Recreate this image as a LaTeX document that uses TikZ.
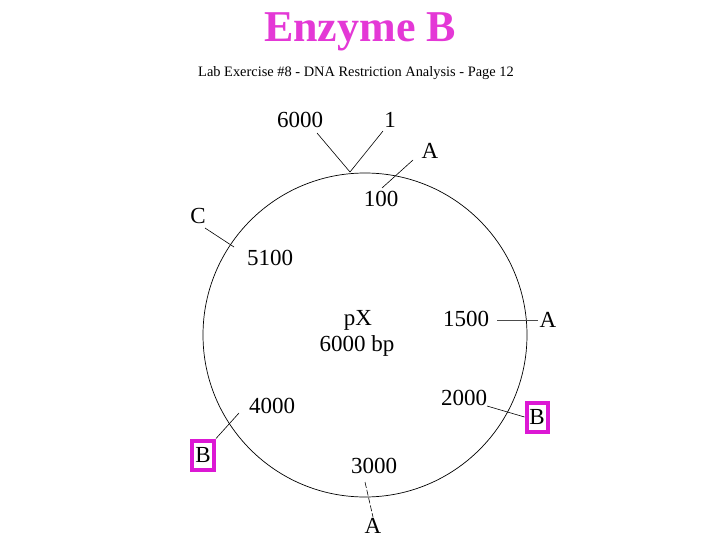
\documentclass[tikz,border=0pt]{standalone}
\usepackage{fontspec}
\setmainfont{Liberation Serif}
\usepackage{tikz}
\usetikzlibrary{positioning}
\definecolor{enzpink}{RGB}{228,56,214}
\definecolor{boxpink}{RGB}{220,24,212}

\begin{document}
\begin{tikzpicture}[x=1pt, y=-1pt, semithick,
    lbl/.style={font=\fontsize{23}{23}\selectfont, inner sep=1pt},
    tick/.style={black, line width=0.6pt},
    sitebox/.style={draw=boxpink, line width=4pt, inner sep=1pt,
      minimum width=21pt, minimum height=29pt}]
    \fill[white] (0,0) rectangle (720,540);
    \useasboundingbox (0,0) rectangle (720,540);
    % Title
    \node[text=enzpink, font=\bfseries\fontsize{44}{44}\selectfont] (title) at (360,32) {Enzyme B};
    \node[font=\fontsize{14.4}{15}\selectfont] (header) at (356,73)
      {Lab Exercise \#8 - DNA Restriction Analysis - Page 12};
    % Plasmid
    \coordinate (c) at (365,335);
    \draw[line width=0.7pt] (c) circle (162pt);
    \node[lbl] (name) at (358,320) {pX};
    \node[lbl] (size) at (357,346) {6000 bp};
    % Origin
    \node[lbl] (n6000) at (300,120) {6000};
    \node[lbl] (n1) at (390,120) {1};
    \coordinate (v) at (350,172);
    \coordinate (v6000) at (317,133);
    \coordinate (v1) at (383,131);
    \draw[tick] (v6000) -- (v) -- (v1);
    % Cut sites
    \node[lbl] (a1) at (430,151) {A};
    \node[lbl] (n100) at (381,199) {100};
    \coordinate (a1s) at (413,160);
    \coordinate (a1e) at (382,188);
    \draw[tick] (a1s) -- (a1e);

    \node[lbl] (c1) at (198,216) {C};
    \node[lbl] (n5100) at (270,258) {5100};
    \coordinate (c1s) at (205,228);
    \coordinate (c1e) at (234,247);
    \draw[tick] (c1s) -- (c1e);

    \node[lbl] (n1500) at (466,319) {1500};
    \node[lbl] (a2) at (548,320) {A};
    \coordinate (a2s) at (497,320);
    \coordinate (a2e) at (538,320);
    \draw[tick, black!70] (a2s) -- (a2e);

    \node[lbl] (n2000) at (464,398) {2000};
    \node[lbl, sitebox] (b1) at (537,417) {B};
    \coordinate (b1s) at (487,406);
    \draw[tick] (b1s) -- (b1.west);

    \node[lbl] (n4000) at (272,406) {4000};
    \node[lbl, sitebox, minimum width=22pt] (b2) at (203,455) {B};
    \coordinate (b2s) at (239,413);
    \draw[tick] (b2s) -- (b2.north east);

    \node[lbl] (n3000) at (374,466) {3000};
    \node[lbl] (a3) at (373,526) {A};
    \coordinate (a3s) at (365,482);
    \draw[tick, dash pattern=on 6pt off 2pt] (a3s) -- (a3.north);
\end{tikzpicture}
\end{document}
